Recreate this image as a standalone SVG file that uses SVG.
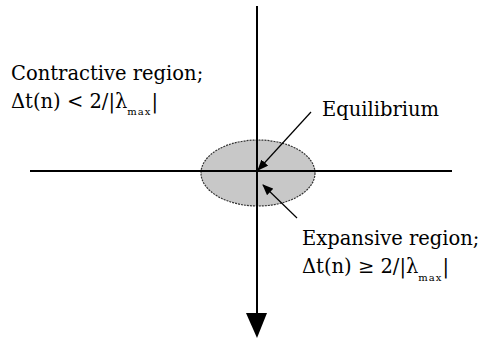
<svg xmlns="http://www.w3.org/2000/svg" width="479" height="342" viewBox="0 0 479 342">
<style>
.t{font-family:"DejaVu Serif",serif;font-size:19.5px;fill:#000}
.s{font-size:10px;letter-spacing:1px}
.ax{stroke:#000;stroke-width:2;fill:none}
.ptr{stroke:#000;stroke-width:1.2;fill:none}
</style>
<defs>
<marker id="ah" markerWidth="11" markerHeight="9" refX="10" refY="4.5" orient="auto" markerUnits="userSpaceOnUse" viewBox="0 0 11 9"><path d="M0,0 L11,4.5 L0,9 z" fill="#000"/></marker>
</defs>
<rect width="479" height="342" fill="#fff"/>
<g id="region">
<ellipse cx="258" cy="173" rx="57" ry="33" fill="#c8c8c8" stroke="#333" stroke-width="1.2" stroke-dasharray="2,1"/>
</g>
<g id="connectors">
<line class="ax" x1="30" y1="171" x2="452" y2="171"/>
<line class="ax" x1="257" y1="6" x2="257" y2="316"/>
<polygon points="246,313 267,313 257,338" fill="#000"/>
<line class="ptr" x1="311" y1="112" x2="258" y2="170" marker-end="url(#ah)"/>
<line class="ptr" x1="297" y1="218" x2="263" y2="185" marker-end="url(#ah)"/>
</g>
<g id="contractive">
<text class="t" x="11" y="80">Contractive region;</text>
<text class="t" x="11" y="108">Δt(n) &lt; 2/|λ<tspan class="s" dy="7">max</tspan><tspan dy="-7">|</tspan></text>
</g>
<g id="equilibrium">
<text class="t" x="322" y="116">Equilibrium</text>
</g>
<g id="expansive">
<text class="t" x="302" y="245">Expansive region;</text>
<text class="t" x="302" y="273">Δt(n) ≥ 2/|λ<tspan class="s" dy="8">max</tspan><tspan dy="-8">|</tspan></text>
</g>
</svg>
